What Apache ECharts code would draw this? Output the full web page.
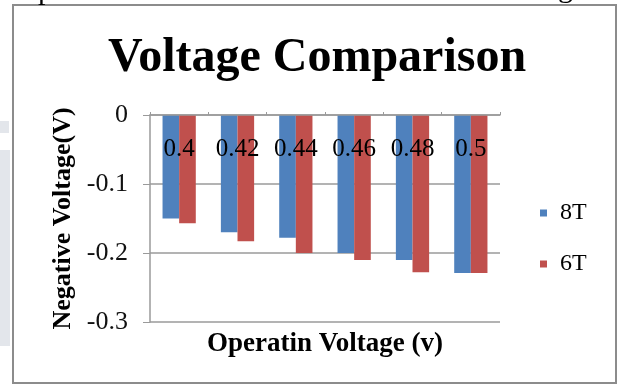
<!DOCTYPE html>
<html>
<head>
<meta charset="utf-8">
<script src="https://cdn.jsdelivr.net/npm/echarts@6/dist/echarts.min.js"></script>
<style>
  html, body { margin: 0; padding: 0; background: #fff; }
  #chart { width: 621px; height: 387px; }
</style>
</head>
<body>
<div id="chart"></div>
<script>
// Operating voltages (category labels) and the negative voltage per cell type
const operatingVoltages = ['0.4', '0.42', '0.44', '0.46', '0.48', '0.5'];
const seriesNames = ['8T', '6T'];
const values8T = [-0.15, -0.17, -0.178, -0.2, -0.21, -0.229];
const values6T = [-0.157, -0.183, -0.2, -0.21, -0.228, -0.229];
const yTicks = { min: -0.3, max: 0, interval: 0.1 };

const serif = '"Liberation Serif", "Times New Roman", serif';
const gridColor = '#9a9a9a';

const chart = echarts.init(document.getElementById('chart'), null, { renderer: 'canvas' });

chart.setOption({
  animation: false,
  backgroundColor: '#ffffff',
  title: {
    text: 'Voltage Comparison',
    left: 312,
    top: 30,
    textAlign: 'center',
    textStyle: { fontFamily: serif, fontSize: 48, fontWeight: 'bold', color: '#000' }
  },
  legend: {
    orient: 'vertical',
    left: 540,
    top: 201,
    padding: 0,
    itemWidth: 7,
    itemHeight: 7,
    itemGap: 27,
    icon: 'rect',
    data: seriesNames,
    textStyle: { fontFamily: serif, fontSize: 24, color: '#000', padding: [0, 0, 0, 8] }
  },
  grid: { left: 150, right: 121, top: 115, bottom: 65, containLabel: false, outerBoundsMode: 'none' },
  xAxis: [
    {
      // category axis drawn along the zero line at the top, labels sitting inside the plot
      type: 'category',
      data: operatingVoltages,
      position: 'top',
      z: 10,
      axisLine: { onZero: false, lineStyle: { color: gridColor, width: 1.5 } },
      axisTick: { show: true, inside: false, length: 3, lineStyle: { color: gridColor } },
      axisLabel: { inside: true, margin: 22, fontFamily: serif, fontSize: 25, color: '#000' }
    },
    {
      // bottom axis only carries the axis title
      type: 'category',
      data: operatingVoltages,
      position: 'bottom',
      name: 'Operatin Voltage (v)',
      nameLocation: 'middle',
      nameGap: 9,
      nameTextStyle: { fontFamily: serif, fontSize: 27, fontWeight: 'bold', color: '#000' },
      axisLine: { show: false },
      axisTick: { show: false },
      axisLabel: { show: false }
    }
  ],
  yAxis: {
    type: 'value',
    min: yTicks.min,
    max: yTicks.max,
    interval: yTicks.interval,
    name: 'Negative Voltage(V)',
    nameLocation: 'middle',
    nameGap: 73,
    nameTextStyle: { fontFamily: serif, fontSize: 26, fontWeight: 'bold', color: '#000' },
    axisLine: { show: true, lineStyle: { color: gridColor, width: 1.5 } },
    axisTick: { show: true, length: 7, lineStyle: { color: gridColor } },
    axisLabel: { margin: 22, fontFamily: serif, fontSize: 26, color: '#111',
      formatter: v => (v === 0 ? '0' : String(Math.round(v * 10) / 10)) },
    splitLine: { show: true, lineStyle: { color: gridColor, width: 1.5 } }
  },
  series: [
    { name: seriesNames[0], type: 'bar', data: values8T, barGap: '0%', barCategoryGap: '43%',
      itemStyle: { color: '#4f81bd' } },
    { name: seriesNames[1], type: 'bar', data: values6T, barGap: '0%', barCategoryGap: '43%',
      itemStyle: { color: '#c0504d' } }
  ],
  graphic: [
    // page frame around the figure
    { type: 'rect', shape: { x: 13, y: 5, width: 603, height: 378 },
      style: { fill: 'none', stroke: '#8c8c8c', lineWidth: 2 }, z: 100 },
    // faint page decoration on the left margin
    { type: 'rect', shape: { x: 0, y: 150, width: 10, height: 196 },
      style: { fill: '#e3e6eb' }, z: 1 },
    { type: 'rect', shape: { x: 0, y: 121, width: 9, height: 12 },
      style: { fill: '#e3e6eb' }, z: 1 },
    // descenders of the surrounding text line above the figure
    { type: 'text', left: 38, top: -24,
      style: { text: 'p', font: '30px ' + serif, fill: '#000' }, z: 100 },
    { type: 'text', left: 558, top: -26,
      style: { text: 'g', font: '30px ' + serif, fill: '#000' }, z: 100 }
  ]
});
</script>
</body>
</html>
